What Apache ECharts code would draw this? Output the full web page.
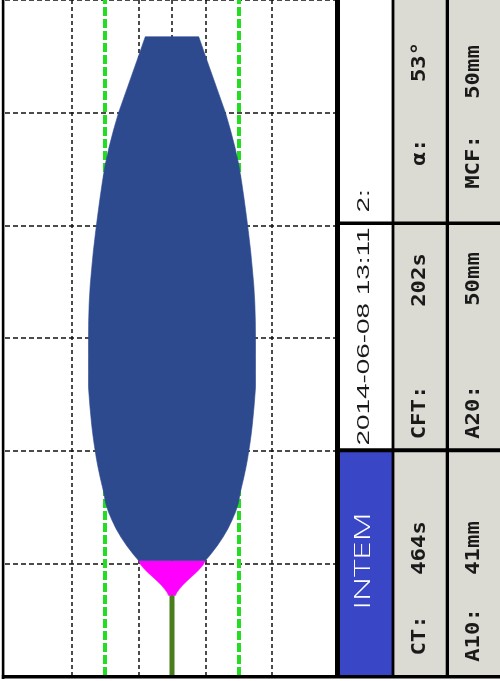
<!DOCTYPE html>
<html>
<head>
<meta charset="utf-8">
<script src="https://cdn.jsdelivr.net/npm/echarts@6/dist/echarts.min.js"></script>
<style>
  html, body { margin: 0; padding: 0; background: #fff; }
  #chart { width: 500px; height: 681px; }
</style>
</head>
<body>
<div id="chart"></div>
<script>
// ---- Trace data: time in seconds, amplitude in mm ----
const stemTimes = [0, 464];                      // clotting time phase (flat line)
const formationTimes = [464, 480, 500, 520, 540, 560, 580, 600, 620, 640, 666];
const formationAmps  = [2, 2.8, 4.3, 6, 8, 10.2, 12.5, 14.8, 16.8, 18.6, 20];
const clotTimes = [666, 700, 750, 800, 850, 900, 950, 1000, 1064, 1100, 1150, 1200, 1250,
                   1300, 1350, 1400, 1450, 1500, 1550, 1600, 1664, 1750, 1850, 1950, 2050,
                   2150, 2250, 2350, 2450, 2550, 2650, 2750, 2850, 2950, 3050, 3150, 3250,
                   3400, 3550, 3688];
const clotAmps  = [20, 23, 27, 30.5, 33.5, 36, 38.2, 39.8, 41, 41.9, 43.1, 44.2, 45.2,
                   46, 46.8, 47.5, 48.1, 48.6, 49.1, 49.5, 50, 50, 50, 50, 49.9,
                   49.6, 49, 48.1, 47.1, 45.9, 44.6, 43.2, 41.7, 40, 37.7, 35, 32,
                   26.5, 21, 16];

// ---- Axes ----
const timeMax = 3900;          // s
const timeStep = 650;          // s between horizontal grid lines
const ampHalfRange = 50;       // mm either side of the centre line
const gridMarksMm  = [-30, -10, 0, 10, 30];
const limitMarksMm = [-20, 20];

// ---- Result panel ----
const testName = 'INTEM';
const runStamp = '2014-06-08 13:11';
const channelLabel = '2:';
const paramLabels = ['CT:', 'CFT:', 'α:', 'A10:', 'A20:', 'MCF:'];
const paramValues = ['464s', '202s', '53°', '41mm', '50mm', '50mm'];

const phases = [
  { t: formationTimes, a: formationAmps, color: '#ff00ff' },
  { t: clotTimes, a: clotAmps, color: '#2e4a8f' }
];

// Mirrored trace: half the amplitude on each side of the centre line
function renderTrace(params, api) {
  const ph = phases[params.dataIndex];
  const left = [], right = [];
  for (let i = 0; i < ph.t.length; i++) {
    const half = ph.a[i] / 2;
    left.push(api.coord([-half, ph.t[i]]));
    right.push(api.coord([half, ph.t[i]]));
  }
  return {
    type: 'polygon',
    shape: { points: left.concat(right.reverse()) },
    style: { fill: ph.color, stroke: ph.color, lineWidth: 0.6 }
  };
}

// Rotated column text, stretched along the column
const measureCtx = document.createElement('canvas').getContext('2d');
function scaledText(text, font, cx, cy, scale, color) {
  return {
    type: 'text', x: cx, y: cy, rotation: Math.PI / 2, scaleX: scale, z: 20, silent: true,
    style: { text: text, font: font, fill: color,
             textAlign: 'center', textVerticalAlign: 'middle',
             align: 'center', verticalAlign: 'middle' }
  };
}
function fitText(text, font, cx, cy, len, color) {
  measureCtx.font = font;
  return scaledText(text, font, cx, cy, len / measureCtx.measureText(text).width, color);
}
function box(x, y, w, h, fill, z) {
  return { type: 'rect', shape: { x: x, y: y, width: w, height: h }, style: { fill: fill }, z: z, silent: true };
}

const GRAY = '#dcdbd3';
const BLUE = '#3946c6';
const INK = '#1a1a1a';
const monoFont = 'bold 19px "DejaVu Sans Mono"';
const monoScale = 1.17;
const sansFont = '17px "Liberation Sans"';

measureCtx.font = sansFont;
const stampScale = 218 / measureCtx.measureText(runStamp).width;

const panelCells = [
  box(340, 0, 52, 222, '#ffffff', 5),
  box(340, 224, 52, 226, '#ffffff', 5),
  box(340, 450, 52, 226, BLUE, 5),
  box(393, 0, 55, 677, GRAY, 5),
  box(447, 0, 53, 677, GRAY, 5)
];
const borders = [
  box(1.8, 0, 2.6, 679, '#000', 30),
  box(1.8, 675, 498.2, 3.6, '#000', 30),
  box(335, 0, 5, 678, '#000', 30),
  box(391.6, 0, 2.8, 678, '#000', 30),
  box(445.7, 0, 3.3, 678, '#000', 30),
  box(337, 448.3, 163, 4, '#000', 30),
  box(337, 221.6, 163, 3.5, '#000', 30)
];

// label/value centres along each column, bottom row first
const col2 = 420, col3 = 474;
const cellTexts = [
  scaledText(paramLabels[0], monoFont, col2, 635.5, monoScale, INK),
  scaledText(paramValues[0], monoFont, col2, 548, monoScale, INK),
  scaledText(paramLabels[1], monoFont, col2, 412.5, monoScale, INK),
  scaledText(paramValues[1], monoFont, col2, 280, monoScale, INK),
  scaledText(paramLabels[2], monoFont, col2, 152, monoScale, INK),
  scaledText(paramValues[2], monoFont, col2, 62, monoScale, INK),
  scaledText(paramLabels[3], monoFont, col3, 635, monoScale, INK),
  scaledText(paramValues[3], monoFont, col3, 548, monoScale, INK),
  scaledText(paramLabels[4], monoFont, col3, 412, monoScale, INK),
  scaledText(paramValues[4], monoFont, col3, 279, monoScale, INK),
  scaledText(paramLabels[5], monoFont, col3, 162, monoScale, INK),
  scaledText(paramValues[5], monoFont, col3, 72, monoScale, INK),
  fitText(testName, '300 22px "Open Sans"', 364, 561, 97, '#ffffff'),
  scaledText(runStamp, sansFont, 364, 336.5, stampScale, INK),
  scaledText(channelLabel, sansFont, 364, 201, stampScale, INK)
];

const chart = echarts.init(document.getElementById('chart'), null, { renderer: 'canvas' });
chart.setOption({
  animation: false,
  backgroundColor: '#ffffff',
  grid: { left: 5, top: -5, width: 334, height: 681, containLabel: false },
  xAxis: {
    type: 'value', min: -ampHalfRange, max: ampHalfRange,
    axisLine: { show: false }, axisTick: { show: false }, axisLabel: { show: false },
    splitLine: { show: false }
  },
  yAxis: {
    type: 'value', min: 0, max: timeMax, interval: timeStep,
    axisLine: { show: false }, axisTick: { show: false }, axisLabel: { show: false },
    splitLine: { show: true, lineStyle: { color: '#111', width: 1.5, type: [5, 3] } }
  },
  series: [
    {
      type: 'line', data: [], z: 1, silent: true,
      markLine: {
        z: 1, symbol: 'none', silent: true, animation: false,
        label: { show: false },
        data: gridMarksMm.map(v => ({ xAxis: v, lineStyle: { color: '#111', width: 1.5, type: [4, 3] } }))
          .concat(limitMarksMm.map(v => ({ xAxis: v, lineStyle: { color: '#22dd22', width: 4, type: [9, 3] } })))
      }
    },
    {
      type: 'custom', z: 6, silent: true,
      renderItem: renderTrace,
      encode: { x: 0, y: 1 },
      data: phases.map(ph => [0, ph.t[0]])
    },
    {
      type: 'line', z: 7, silent: true, symbol: 'none',
      data: stemTimes.map(t => [0, t]),
      lineStyle: { color: '#4a7d1c', width: 5, cap: 'butt' }
    }
  ],
  graphic: { elements: panelCells.concat(borders, cellTexts) }
});
</script>
</body>
</html>
